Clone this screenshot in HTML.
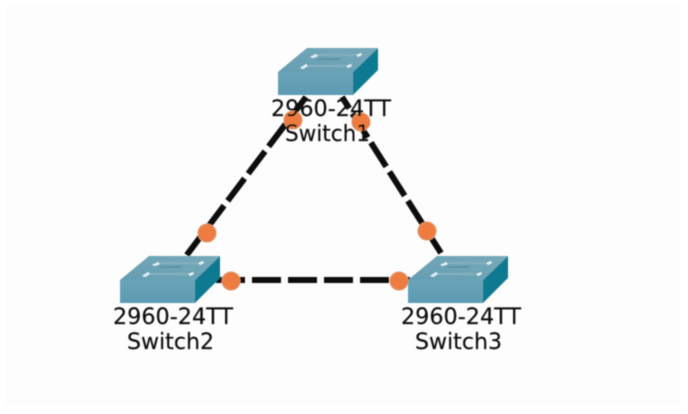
<!DOCTYPE html>
<html>
<head>
<meta charset="utf-8">
<style>
html,body{margin:0;padding:0;width:688px;height:414px;overflow:hidden;background:#fff}
svg{display:block}
text{font-family:"DejaVu Sans","Liberation Sans",sans-serif;fill:#0c0c0c;font-size:22px;stroke:#0c0c0c;stroke-width:0.15px}
</style>
</head>
<body>
<svg width="688" height="414" viewBox="0 0 688 414" xmlns="http://www.w3.org/2000/svg">
<defs>
<filter id="b" x="-5%" y="-5%" width="110%" height="110%"><feGaussianBlur stdDeviation="0.5"/></filter>
<linearGradient id="top" x1="0" y1="1" x2="1" y2="0">
<stop offset="0" stop-color="#649eb3"/><stop offset="1" stop-color="#78a9ba"/>
</linearGradient>
<linearGradient id="front" x1="0" y1="0" x2="0" y2="1">
<stop offset="0" stop-color="#6aa4b9"/><stop offset="1" stop-color="#5c9bb2"/>
</linearGradient>
<g id="sw">
<polygon points="0,24 29,0 100,0 75,24" fill="url(#top)"/>
<polygon points="0,24 75,24 75,47 0,47" fill="url(#front)"/>
<polygon points="75,24 100,0 100,22 75,47" fill="#0f7a91"/>
<polygon points="38,8 40,6 78,6 76,8" fill="#84b1bf"/>
<polygon points="27,19 29,17 68,17 66,19" fill="#84b1bf"/>
<polygon points="38,12 42,10 64,10 60,12" fill="#5c90a5"/>
<polygon points="32,9 38,6 40,8 35,10" fill="#e6f3f7"/>
<polygon points="22,20 28,16 30,18 25,21" fill="#e6f3f7"/>
<polygon points="78,7 83,5 84,7 80,9" fill="#e6f3f7"/>
<polygon points="68,18 73,16 74,18 70,20" fill="#e6f3f7"/>
</g>
</defs>
<rect x="0" y="0" width="688" height="414" fill="#fff"/>
<rect x="6" y="6" width="674" height="400" fill="#fdfdfd"/>
<g filter="url(#b)">
<g stroke="#0a0a0a" stroke-width="6" fill="none">
<line x1="306" y1="97" x2="186" y2="256" stroke-dasharray="28 6"/>
<line x1="342" y1="97" x2="441" y2="253" stroke-dasharray="28.5 6" stroke-dashoffset="15"/>
<line x1="216" y1="280" x2="410" y2="280" stroke-dasharray="29 7"/>
</g>
<use href="#sw" x="278" y="48"/>
<use href="#sw" x="120" y="256"/>
<use href="#sw" x="408" y="256"/>
<g fill="#ee7c3f" stroke="#d9956d" stroke-width="1">
<circle cx="293" cy="120" r="9"/>
<circle cx="361" cy="122" r="9"/>
<circle cx="207" cy="233" r="9"/>
<circle cx="427" cy="231" r="9"/>
<circle cx="231" cy="281" r="9"/>
<circle cx="399" cy="281" r="9"/>
</g>
<text x="271" y="116" textLength="120" lengthAdjust="spacingAndGlyphs">2960-24TT</text>
<text x="285" y="141" textLength="85" lengthAdjust="spacingAndGlyphs">Switch1</text>
<text x="113" y="324" textLength="120" lengthAdjust="spacingAndGlyphs">2960-24TT</text>
<text x="127" y="349" textLength="87" lengthAdjust="spacingAndGlyphs">Switch2</text>
<text x="401" y="324" textLength="120" lengthAdjust="spacingAndGlyphs">2960-24TT</text>
<text x="415" y="349" textLength="87" lengthAdjust="spacingAndGlyphs">Switch3</text>
</g>
</svg>
</body>
</html>
